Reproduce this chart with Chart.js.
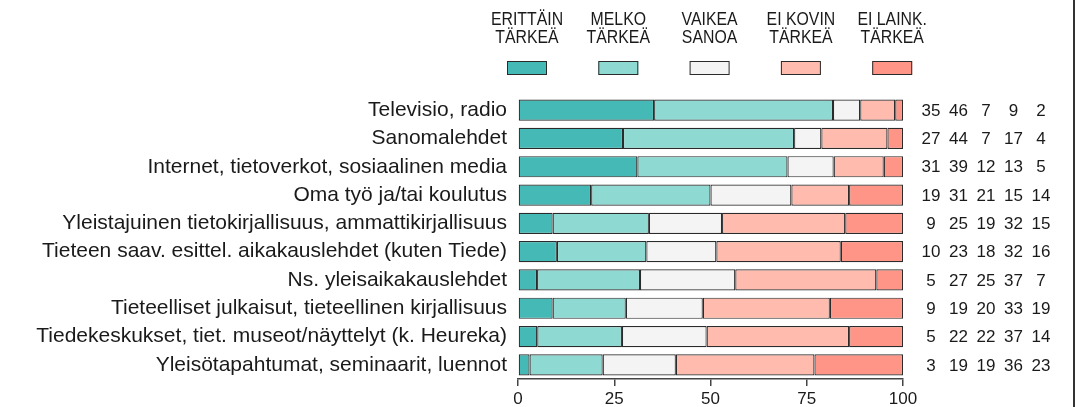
<!DOCTYPE html>
<html lang="fi">
<head>
<meta charset="UTF-8">
<title>Tiedon lähteet</title>
<style>
  body { margin: 0; background: #fff; }
  #wrap { width: 1076px; height: 407px; }
</style>
<script src="https://cdn.jsdelivr.net/npm/chart.js"></script>
</head>
<body>
<div id="wrap"><canvas id="chart" width="1076" height="407"></canvas></div>
<script>
// categories (top to bottom)
const sources = [
  "Televisio, radio",
  "Sanomalehdet",
  "Internet, tietoverkot, sosiaalinen media",
  "Oma työ ja/tai koulutus",
  "Yleistajuinen tietokirjallisuus, ammattikirjallisuus",
  "Tieteen saav. esittel. aikakauslehdet (kuten Tiede)",
  "Ns. yleisaikakauslehdet",
  "Tieteelliset julkaisut, tieteellinen kirjallisuus",
  "Tiedekeskukset, tiet. museot/näyttelyt (k. Heureka)",
  "Yleisötapahtumat, seminaarit, luennot"
];

// answer shares in %, one array per answer option
const erittainTarkea = [35, 27, 31, 19, 9, 10, 5, 9, 5, 3];
const melkoTarkea    = [46, 44, 39, 31, 25, 23, 27, 19, 22, 19];
const vaikeaSanoa    = [7, 7, 12, 21, 19, 18, 25, 20, 22, 19];
const eiKovinTarkea  = [9, 17, 13, 15, 32, 32, 37, 33, 37, 36];
const eiLainkTarkea  = [2, 4, 5, 14, 15, 16, 7, 19, 14, 23];

const legendLabels = [
  ["ERITTÄIN", "TÄRKEÄ"],
  ["MELKO", "TÄRKEÄ"],
  ["VAIKEA", "SANOA"],
  ["EI KOVIN", "TÄRKEÄ"],
  ["EI LAINK.", "TÄRKEÄ"]
];
const xTicks = [0, 25, 50, 75, 100];

const series = [erittainTarkea, melkoTarkea, vaikeaSanoa, eiKovinTarkea, eiLainkTarkea];
const colors = ["#45b9b5", "#8fd9d3", "#f4f4f4", "#ffbbad", "#ff9586"];

// rounded shares don't always add to 100, scale each row to full width
const rowTotals = sources.map((_, i) => series.reduce((s, arr) => s + arr[i], 0));

const datasets = series.map((arr, k) => ({
  label: legendLabels[k].join(" "),
  data: arr.map((v, i) => v / rowTotals[i] * 100),
  backgroundColor: colors[k],
  borderColor: "#2b2b2b",
  borderWidth: 1.2,
  borderSkipped: false,
  barPercentage: 0.75,
  categoryPercentage: 1
}));

const textColor = "#1a1a1a";

const extras = {
  id: "extras",
  afterDraw(chart) {
    const ctx = chart.ctx;
    const yScale = chart.scales.y;
    ctx.save();

    // legend: two lines of text above a small box (text a bit condensed)
    ctx.font = "18px 'Liberation Sans', Arial, sans-serif";
    ctx.textAlign = "center";
    ctx.textBaseline = "middle";
    legendLabels.forEach((lines, k) => {
      const cx = 527 + k * 91.3;
      ctx.fillStyle = textColor;
      [20, 38].forEach((ty, n) => {
        ctx.save();
        ctx.translate(cx, ty);
        ctx.scale(0.88, 1);
        ctx.fillText(lines[n], 0, 0);
        ctx.restore();
      });
      ctx.fillStyle = colors[k];
      ctx.fillRect(cx - 20, 61, 40, 14);
      ctx.strokeStyle = "#2b2b2b";
      ctx.lineWidth = 1;
      ctx.strokeRect(cx - 19.5, 61.5, 39, 13);
    });

    // numbers to the right of the bars
    ctx.font = "17px 'Liberation Sans', Arial, sans-serif";
    ctx.fillStyle = textColor;
    sources.forEach((_, i) => {
      const y = yScale.getPixelForValue(i);
      series.forEach((arr, k) => {
        ctx.fillText(String(arr[i]), 931 + k * 27.5, y + 1);
      });
    });

    // frame line on the right edge
    ctx.strokeStyle = "#333";
    ctx.lineWidth = 2;
    ctx.beginPath();
    ctx.moveTo(1074, 0);
    ctx.lineTo(1074, chart.height);
    ctx.stroke();
    ctx.restore();
  }
};

new Chart(document.getElementById("chart"), {
  type: "bar",
  data: { labels: sources, datasets: datasets },
  options: {
    responsive: false,
    animation: false,
    indexAxis: "y",
    layout: { padding: { left: 0, top: 96, right: 173, bottom: 0 } },
    plugins: {
      legend: { display: false },
      tooltip: { enabled: false }
    },
    scales: {
      x: {
        stacked: true,
        min: 0,
        max: 100,
        afterBuildTicks: (scale) => { scale.ticks = xTicks.map(v => ({ value: v })); },
        afterFit: (scale) => { scale.height = 28; },
        ticks: {
          color: textColor,
          padding: 3,
          font: { family: "'Liberation Sans', Arial, sans-serif", size: 17 }
        },
        grid: {
          display: true,
          drawOnChartArea: false,
          drawTicks: true,
          tickLength: 7,
          color: "#444",
          lineWidth: 1.5
        },
        border: { display: true, color: "#444", width: 1.5 }
      },
      y: {
        stacked: true,
        afterFit: (scale) => { scale.width = 518; },
        ticks: {
          color: textColor,
          padding: 11,
          font: { family: "'Liberation Sans', Arial, sans-serif", size: 21 }
        },
        grid: { display: false, drawTicks: false },
        border: { display: false }
      }
    }
  },
  plugins: [extras]
});
</script>
</body>
</html>
